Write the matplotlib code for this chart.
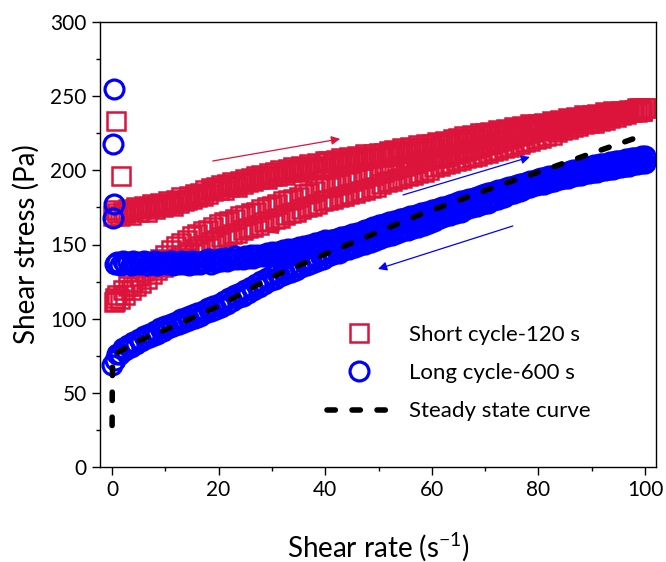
import numpy as np
import matplotlib
matplotlib.use("Agg")
import matplotlib.pyplot as plt
from matplotlib.ticker import MultipleLocator

plt.rcParams["font.family"] = ["Lato", "DejaVu Sans"]
plt.rcParams["mathtext.fontset"] = "custom"
plt.rcParams["mathtext.rm"] = "Lato"
plt.rcParams["mathtext.default"] = "regular"

RED = "#dc143c"
BLUE = "#0000ff"

# shear rate grid of the ramps (s^-1), 0.5 s^-1 steps
rate = np.arange(0.5, 100.5, 0.5)

# short cycle, 120 s
short_start_x = [0.2, 0.8, 1.7]
short_start_y = [169, 233, 196]
short_up = [173, 171, 169, 172, 171, 174, 170, 173, 175, 172, 174, 176, 172, 175, 177, 174, 176, 178, 175, 177,
            179, 177, 176, 180, 178, 182, 179, 180, 183, 181, 184, 182, 185, 183, 187, 184, 188, 186, 189, 187,
            190, 187, 191, 189, 192, 190, 189, 193, 191, 194, 192, 195, 193, 196, 194, 197, 195, 194, 198, 196,
            199, 196, 200, 198, 197, 201, 199, 202, 200, 199, 203, 201, 200, 204, 202, 201, 205, 203, 202, 206,
            206, 203, 205, 207, 204, 208, 206, 205, 209, 207, 206, 210, 208, 207, 211, 209, 208, 211, 209, 212,
            209, 212, 211, 213, 210, 214, 212, 211, 215, 213, 212, 216, 214, 213, 217, 215, 214, 218, 216, 218,
            215, 219, 218, 217, 220, 219, 218, 221, 220, 222, 219, 223, 221, 220, 224, 222, 221, 225, 223, 225,
            223, 226, 225, 224, 227, 226, 225, 228, 227, 226, 229, 228, 227, 230, 229, 228, 231, 230, 229, 231,
            229, 232, 231, 230, 233, 232, 231, 234, 233, 232, 235, 234, 233, 236, 235, 234, 237, 236, 235, 237,
            235, 238, 237, 236, 239, 238, 237, 240, 239, 238, 240, 239, 239, 241, 240, 240, 242, 241, 240, 242]
short_down = [112, 116, 113, 119, 116, 122, 119, 125, 122, 129, 124, 132, 127, 135, 130, 138, 133, 140, 135, 143,
              137, 146, 139, 149, 141, 151, 143, 153, 145, 156, 147, 157, 149, 159, 150, 160, 152, 162, 153, 164,
              155, 165, 156, 166, 157, 167, 158, 169, 160, 170, 161, 171, 162, 172, 163, 174, 165, 175, 166, 176,
              167, 177, 168, 179, 170, 180, 171, 181, 172, 182, 174, 184, 175, 185, 176, 186, 177, 188, 179, 189,
              180, 189, 181, 190, 182, 191, 183, 192, 184, 193, 185, 194, 186, 195, 187, 196, 188, 197, 189, 198,
              191, 199, 192, 200, 193, 201, 194, 202, 195, 203, 196, 204, 197, 205, 198, 206, 199, 207, 200, 208,
              202, 208, 203, 209, 204, 210, 205, 211, 206, 212, 207, 213, 208, 214, 209, 215, 210, 216, 211, 217,
              212, 218, 213, 219, 214, 220, 215, 221, 216, 222, 217, 223, 218, 224, 219, 225, 220, 226, 221, 227,
              222, 227, 223, 228, 224, 229, 226, 230, 227, 231, 228, 232, 229, 233, 230, 234, 231, 235, 232, 235,
              232, 235, 233, 236, 234, 237, 235, 238, 236, 239, 237, 239, 238, 240, 239, 241, 239, 242, 240, 242]
short_end_x = [0.6, 0.3]
short_end_y = [114, 111]

# long cycle, 600 s
long_start_x = [0.38, 0.13, 0.38, 0.13]
long_start_y = [255, 218, 177, 168]
long_up = [137, 138, 136, 139, 137, 138, 136, 139, 137, 138, 137, 139, 136, 138, 137, 139, 136, 138, 137, 138,
           137, 139, 136, 138, 137, 139, 137, 138, 136, 139, 137, 138, 137, 139, 138, 140, 137, 139, 138, 140,
           139, 141, 139, 141, 140, 142, 140, 141, 140, 142, 141, 143, 141, 143, 142, 143, 142, 144, 143, 145,
           143, 145, 144, 146, 144, 147, 145, 147, 146, 148, 147, 149, 148, 150, 149, 151, 150, 152, 151, 153,
           152, 153, 153, 154, 154, 155, 155, 156, 156, 157, 157, 158, 158, 159, 160, 160, 161, 162, 162, 163,
           163, 164, 164, 165, 165, 166, 166, 167, 167, 168, 168, 169, 169, 170, 170, 171, 171, 172, 172, 173,
           173.5, 174, 174.5, 175, 175.5, 176, 176.5, 177, 177.5, 178.5, 179, 179.5, 180, 180.5, 181, 181.5, 182, 183, 183.5, 184,
           184.5, 185, 185.5, 186, 186.5, 187, 187.5, 188, 188.5, 189, 189.5, 190, 190.5, 191, 191.5, 192, 192.5, 193, 193.5, 194,
           194.5, 195, 195.5, 196, 196, 196.5, 197, 197.5, 198, 198.5, 199, 199.5, 200, 200, 200.5, 201, 201.5, 202, 202.5, 203,
           203.5, 203.5, 204, 204.5, 204.5, 205, 205.5, 205.5, 206, 206.5, 206.5, 207, 207.5, 207.5, 208, 208.5, 208.5, 209, 209.5, 210]
long_down = [72, 76, 76, 80, 79, 82, 81, 84, 83, 86, 85, 88, 87, 90, 88, 92, 90, 94, 92, 95,
             93.5, 96.5, 95, 98, 96.5, 99.5, 98, 101, 99, 102.5, 100.5, 104, 102, 105.5, 103.5, 107, 105, 108.5, 106.5, 110,
             108, 112, 110, 114, 112, 116, 114, 117.5, 115.5, 119.5, 117.5, 121.5, 119.5, 123.5, 121.5, 125.5, 123.5, 127.5, 125.5, 129.5,
             127, 131, 128.5, 132.5, 130, 134, 131.5, 135, 133, 136.5, 134.5, 138, 136, 139.5, 137.5, 141.5, 139, 143, 140.5, 144.5,
             142, 145.5, 143.5, 147, 144.5, 148, 146, 149, 147, 150.5, 148, 151.5, 149.5, 153, 150.5, 154, 152, 155, 153, 156.5,
             154.5, 157, 155.5, 158.5, 156.5, 159.5, 158, 160.5, 159, 161.5, 160, 163, 161, 164, 162, 165, 163, 166, 164.5, 167,
             166, 168, 168, 169, 169, 171, 170, 172, 171, 173, 172, 174, 174, 175, 175, 176, 176, 177, 177, 178,
             178, 180, 180, 181, 181, 183, 182, 184, 184, 185, 185, 186, 186, 187, 188, 189, 189, 190, 190, 191,
             191, 191, 192, 192, 193, 193, 194, 194, 195, 195, 195, 196, 196, 197, 197, 197, 198, 198, 198, 199,
             199, 199, 200, 200, 200, 201, 201, 201, 202, 202, 202, 203, 203, 203, 204, 204, 204, 205, 205, 205]
long_end_x = [0.05]
long_end_y = [69]

# steady state flow curve
steady_x = [0.02, 0.05, 0.1, 0.3, 1, 2, 5, 11, 20, 30, 41, 50, 58, 63, 72, 81, 90, 100]
steady_y = [28, 50, 68, 75, 77, 79, 85, 94, 108.5, 128, 145, 158.5, 170.5, 177, 189, 200, 211.5, 224]

fig = plt.figure(figsize=(6.66, 5.62), dpi=100)
ax = fig.add_axes([100 / 666, 1 - 467 / 562, 556 / 666, 445 / 562])

sq = dict(ls="none", marker="s", ms=12.3, mfc="none", mec=RED, mew=1.8)
ci = dict(ls="none", marker="o", ms=13.6, mfc="none", mec=BLUE, mew=2.3)

ax.plot(np.r_[short_start_x, rate], np.r_[short_start_y, short_up], label="Short cycle-120 s", **sq)
ax.plot(np.r_[rate[::-1], short_end_x], np.r_[short_down[::-1], short_end_y], **sq)
ax.plot(np.r_[long_start_x, rate], np.r_[long_start_y, long_up], label="Long cycle-600 s", **ci)
ax.plot(np.r_[rate[::-1], long_end_x], np.r_[long_down[::-1], long_end_y], **ci)
ax.plot(steady_x, steady_y, color="black", lw=4, dashes=(1.5, 3.0),
        dash_capstyle="round", label="Steady state curve", zorder=5)

# sweep direction arrows
arrows = [((18.9, 206.3), (42.8, 221.2), RED),
          ((47.1, 181.4), (29.5, 157.8), RED),
          ((54.6, 183.4), (78.4, 209.0), BLUE),
          ((75.2, 162.5), (49.9, 133.5), BLUE)]
for tail, head, c in arrows:
    ax.annotate("", xy=head, xytext=tail,
                arrowprops=dict(arrowstyle="-|>", color=c, lw=0.9,
                                mutation_scale=13, shrinkA=0, shrinkB=0))

ax.set_xlim(-2.25, 102.06)
ax.set_ylim(0, 300)
ax.xaxis.set_major_locator(MultipleLocator(20))
ax.xaxis.set_minor_locator(MultipleLocator(10))
ax.yaxis.set_major_locator(MultipleLocator(50))
ax.yaxis.set_minor_locator(MultipleLocator(25))
ax.tick_params(which="major", direction="out", length=6, width=1, labelsize=15)
ax.tick_params(which="minor", direction="out", length=3, width=1)
for s in ax.spines.values():
    s.set_linewidth(1.0)

ax.set_xlabel("Shear rate (s$^{-1}$)", fontsize=20, labelpad=22)
ax.set_ylabel("Shear stress (Pa)", fontsize=20, labelpad=8)

ax.legend(loc="upper left", bbox_to_anchor=(0.408, 0.319), frameon=False,
          fontsize=16, borderpad=0, borderaxespad=0, handlelength=2.9,
          handletextpad=0.8, labelspacing=0.82)

plt.savefig("out.png", dpi=100)
plt.close()
